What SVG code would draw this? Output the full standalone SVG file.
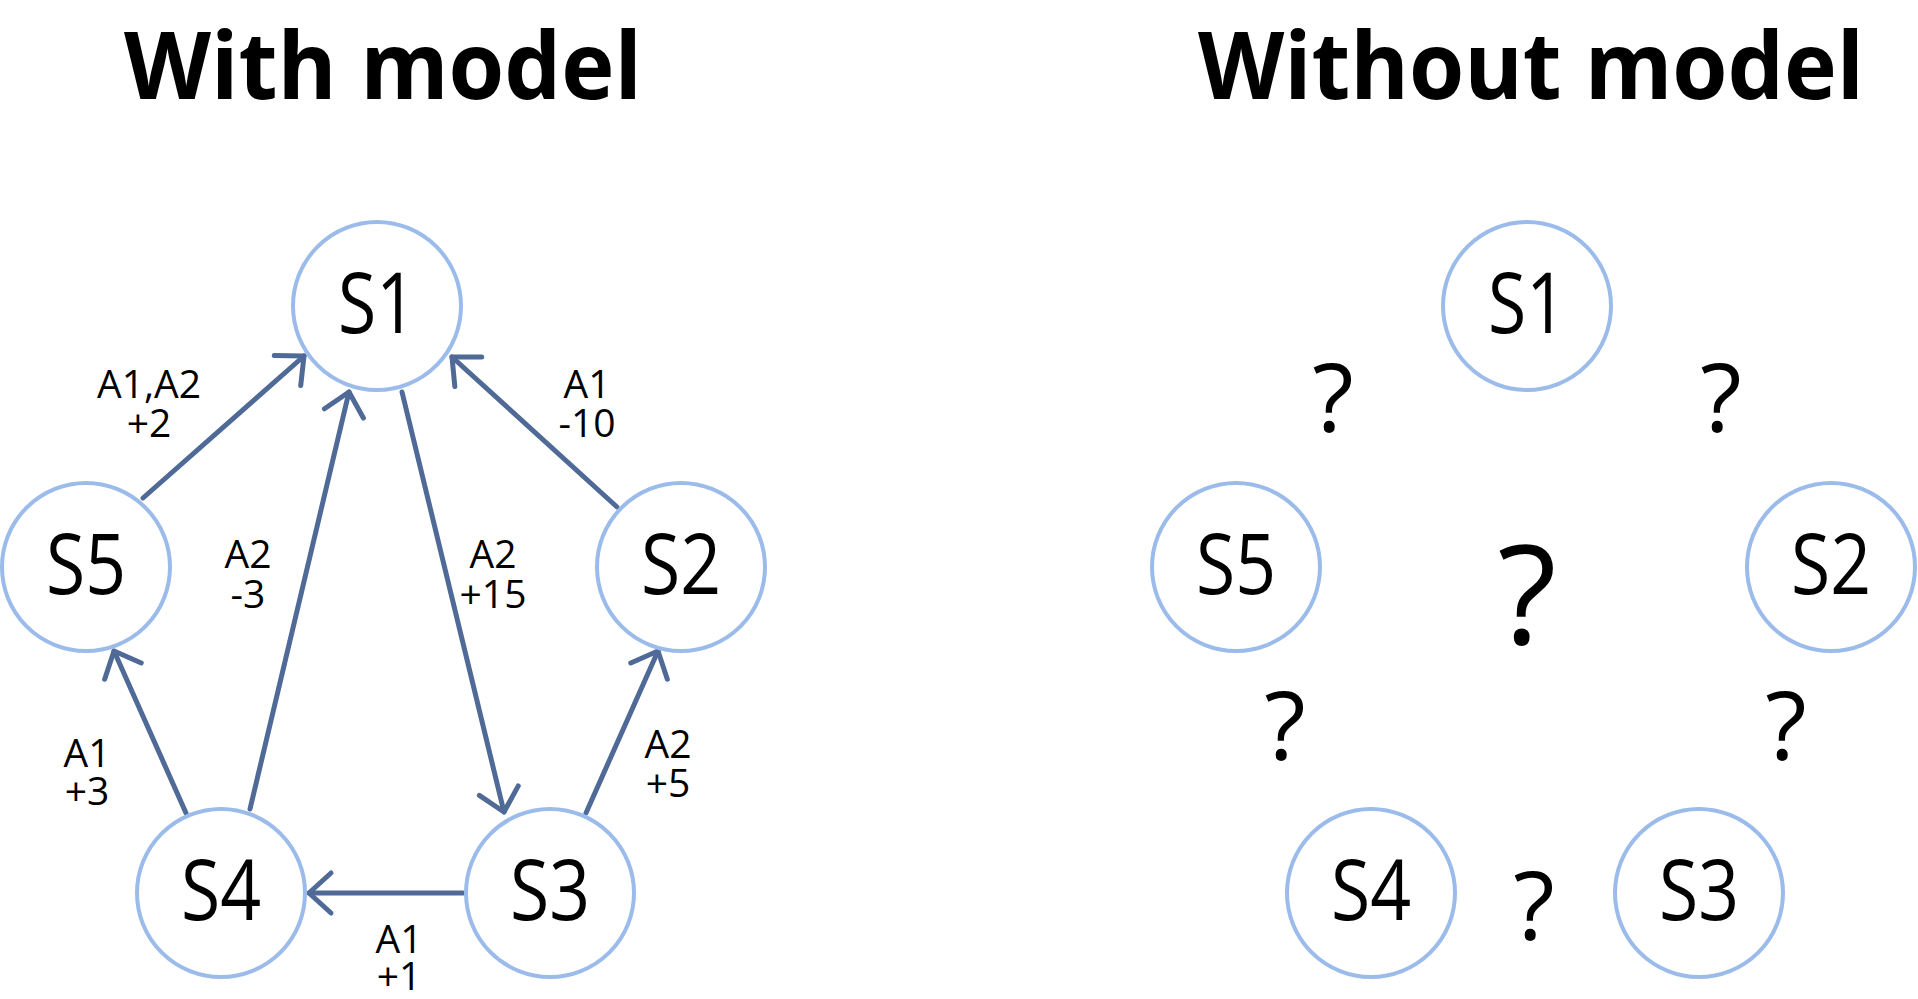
<svg xmlns="http://www.w3.org/2000/svg" width="1918" height="999" viewBox="0 0 1918 999">
<style>
.title{font-family:"Open Sans","Noto Sans",sans-serif;font-weight:700;font-size:93px;fill:#000;text-anchor:middle}
.node circle{fill:#fff;stroke:#9BBBEB;stroke-width:4}
.node text{font-family:"Open Sans","Noto Sans",sans-serif;font-size:84px;fill:#000;text-anchor:middle}
.lbl{font-family:"Open Sans","Noto Sans",sans-serif;font-size:39px;fill:#000;text-anchor:middle}
.q{font-family:"Open Sans","Noto Sans",sans-serif;font-size:96px;fill:#000;text-anchor:middle}
.edge{stroke:#4F6A97;stroke-width:5;fill:none;stroke-linecap:round;marker-end:url(#arr)}
</style>
<defs>
<marker id="arr" markerUnits="userSpaceOnUse" orient="auto" refX="0" refY="0" markerWidth="40" markerHeight="50" overflow="visible">
<path d="M -22 -20 L 0 0 L -22 20" fill="none" stroke="#4F6A97" stroke-width="5" stroke-linecap="round" stroke-linejoin="round"/>
</marker>
</defs>
<rect width="1918" height="999" fill="#fff"/>
<text class="title" x="383" y="99" textLength="518" lengthAdjust="spacingAndGlyphs">With model</text>
<text class="title" x="1531" y="99" textLength="666" lengthAdjust="spacingAndGlyphs">Without model</text>
<g id="connectors">
<line class="edge" x1="143" y1="498" x2="304" y2="356"/>
<line class="edge" x1="250" y1="809" x2="349" y2="392"/>
<line class="edge" x1="402" y1="392" x2="504" y2="812"/>
<line class="edge" x1="617" y1="507" x2="452" y2="357"/>
<line class="edge" x1="186" y1="813" x2="114" y2="651"/>
<line class="edge" x1="586" y1="813" x2="658" y2="651"/>
<line class="edge" x1="463" y1="893" x2="309" y2="893"/>
</g>
<g id="edge-labels">
<text class="lbl" x="149" y="398">A1,A2</text><text class="lbl" x="149" y="437">+2</text>
<text class="lbl" x="587" y="398">A1</text><text class="lbl" x="587" y="437">-10</text>
<text class="lbl" x="248" y="568">A2</text><text class="lbl" x="248" y="608">-3</text>
<text class="lbl" x="493" y="568">A2</text><text class="lbl" x="493" y="608">+15</text>
<text class="lbl" x="87" y="767">A1</text><text class="lbl" x="87" y="805">+3</text>
<text class="lbl" x="668" y="758">A2</text><text class="lbl" x="668" y="797">+5</text>
<text class="lbl" x="399" y="953">A1</text><text class="lbl" x="399" y="990">+1</text>
</g>
<g id="L-S1" class="node"><circle cx="377" cy="306" r="84"/><text x="377" y="333" textLength="78" lengthAdjust="spacingAndGlyphs">S1</text></g>
<g id="L-S2" class="node"><circle cx="681" cy="567" r="84"/><text x="681" y="594" textLength="80" lengthAdjust="spacingAndGlyphs">S2</text></g>
<g id="L-S3" class="node"><circle cx="550" cy="893" r="84"/><text x="550" y="920" textLength="80" lengthAdjust="spacingAndGlyphs">S3</text></g>
<g id="L-S4" class="node"><circle cx="221" cy="893" r="84"/><text x="221" y="920" textLength="80" lengthAdjust="spacingAndGlyphs">S4</text></g>
<g id="L-S5" class="node"><circle cx="86" cy="567" r="84"/><text x="86" y="594" textLength="80" lengthAdjust="spacingAndGlyphs">S5</text></g>
<g id="R-S1" class="node"><circle cx="1527" cy="306" r="84"/><text x="1527" y="333" textLength="78" lengthAdjust="spacingAndGlyphs">S1</text></g>
<g id="R-S2" class="node"><circle cx="1831" cy="567" r="84"/><text x="1831" y="594" textLength="80" lengthAdjust="spacingAndGlyphs">S2</text></g>
<g id="R-S3" class="node"><circle cx="1699" cy="893" r="84"/><text x="1699" y="920" textLength="80" lengthAdjust="spacingAndGlyphs">S3</text></g>
<g id="R-S4" class="node"><circle cx="1371" cy="893" r="84"/><text x="1371" y="920" textLength="80" lengthAdjust="spacingAndGlyphs">S4</text></g>
<g id="R-S5" class="node"><circle cx="1236" cy="567" r="84"/><text x="1236" y="594" textLength="80" lengthAdjust="spacingAndGlyphs">S5</text></g>
<g id="question-marks">
<text class="q" x="1333" y="432">?</text>
<text class="q" x="1721" y="432">?</text>
<text class="q" x="1527" y="644" style="font-size:137px">?</text>
<text class="q" x="1285" y="760">?</text>
<text class="q" x="1786" y="760">?</text>
<text class="q" x="1534" y="940">?</text>
</g>
</svg>
